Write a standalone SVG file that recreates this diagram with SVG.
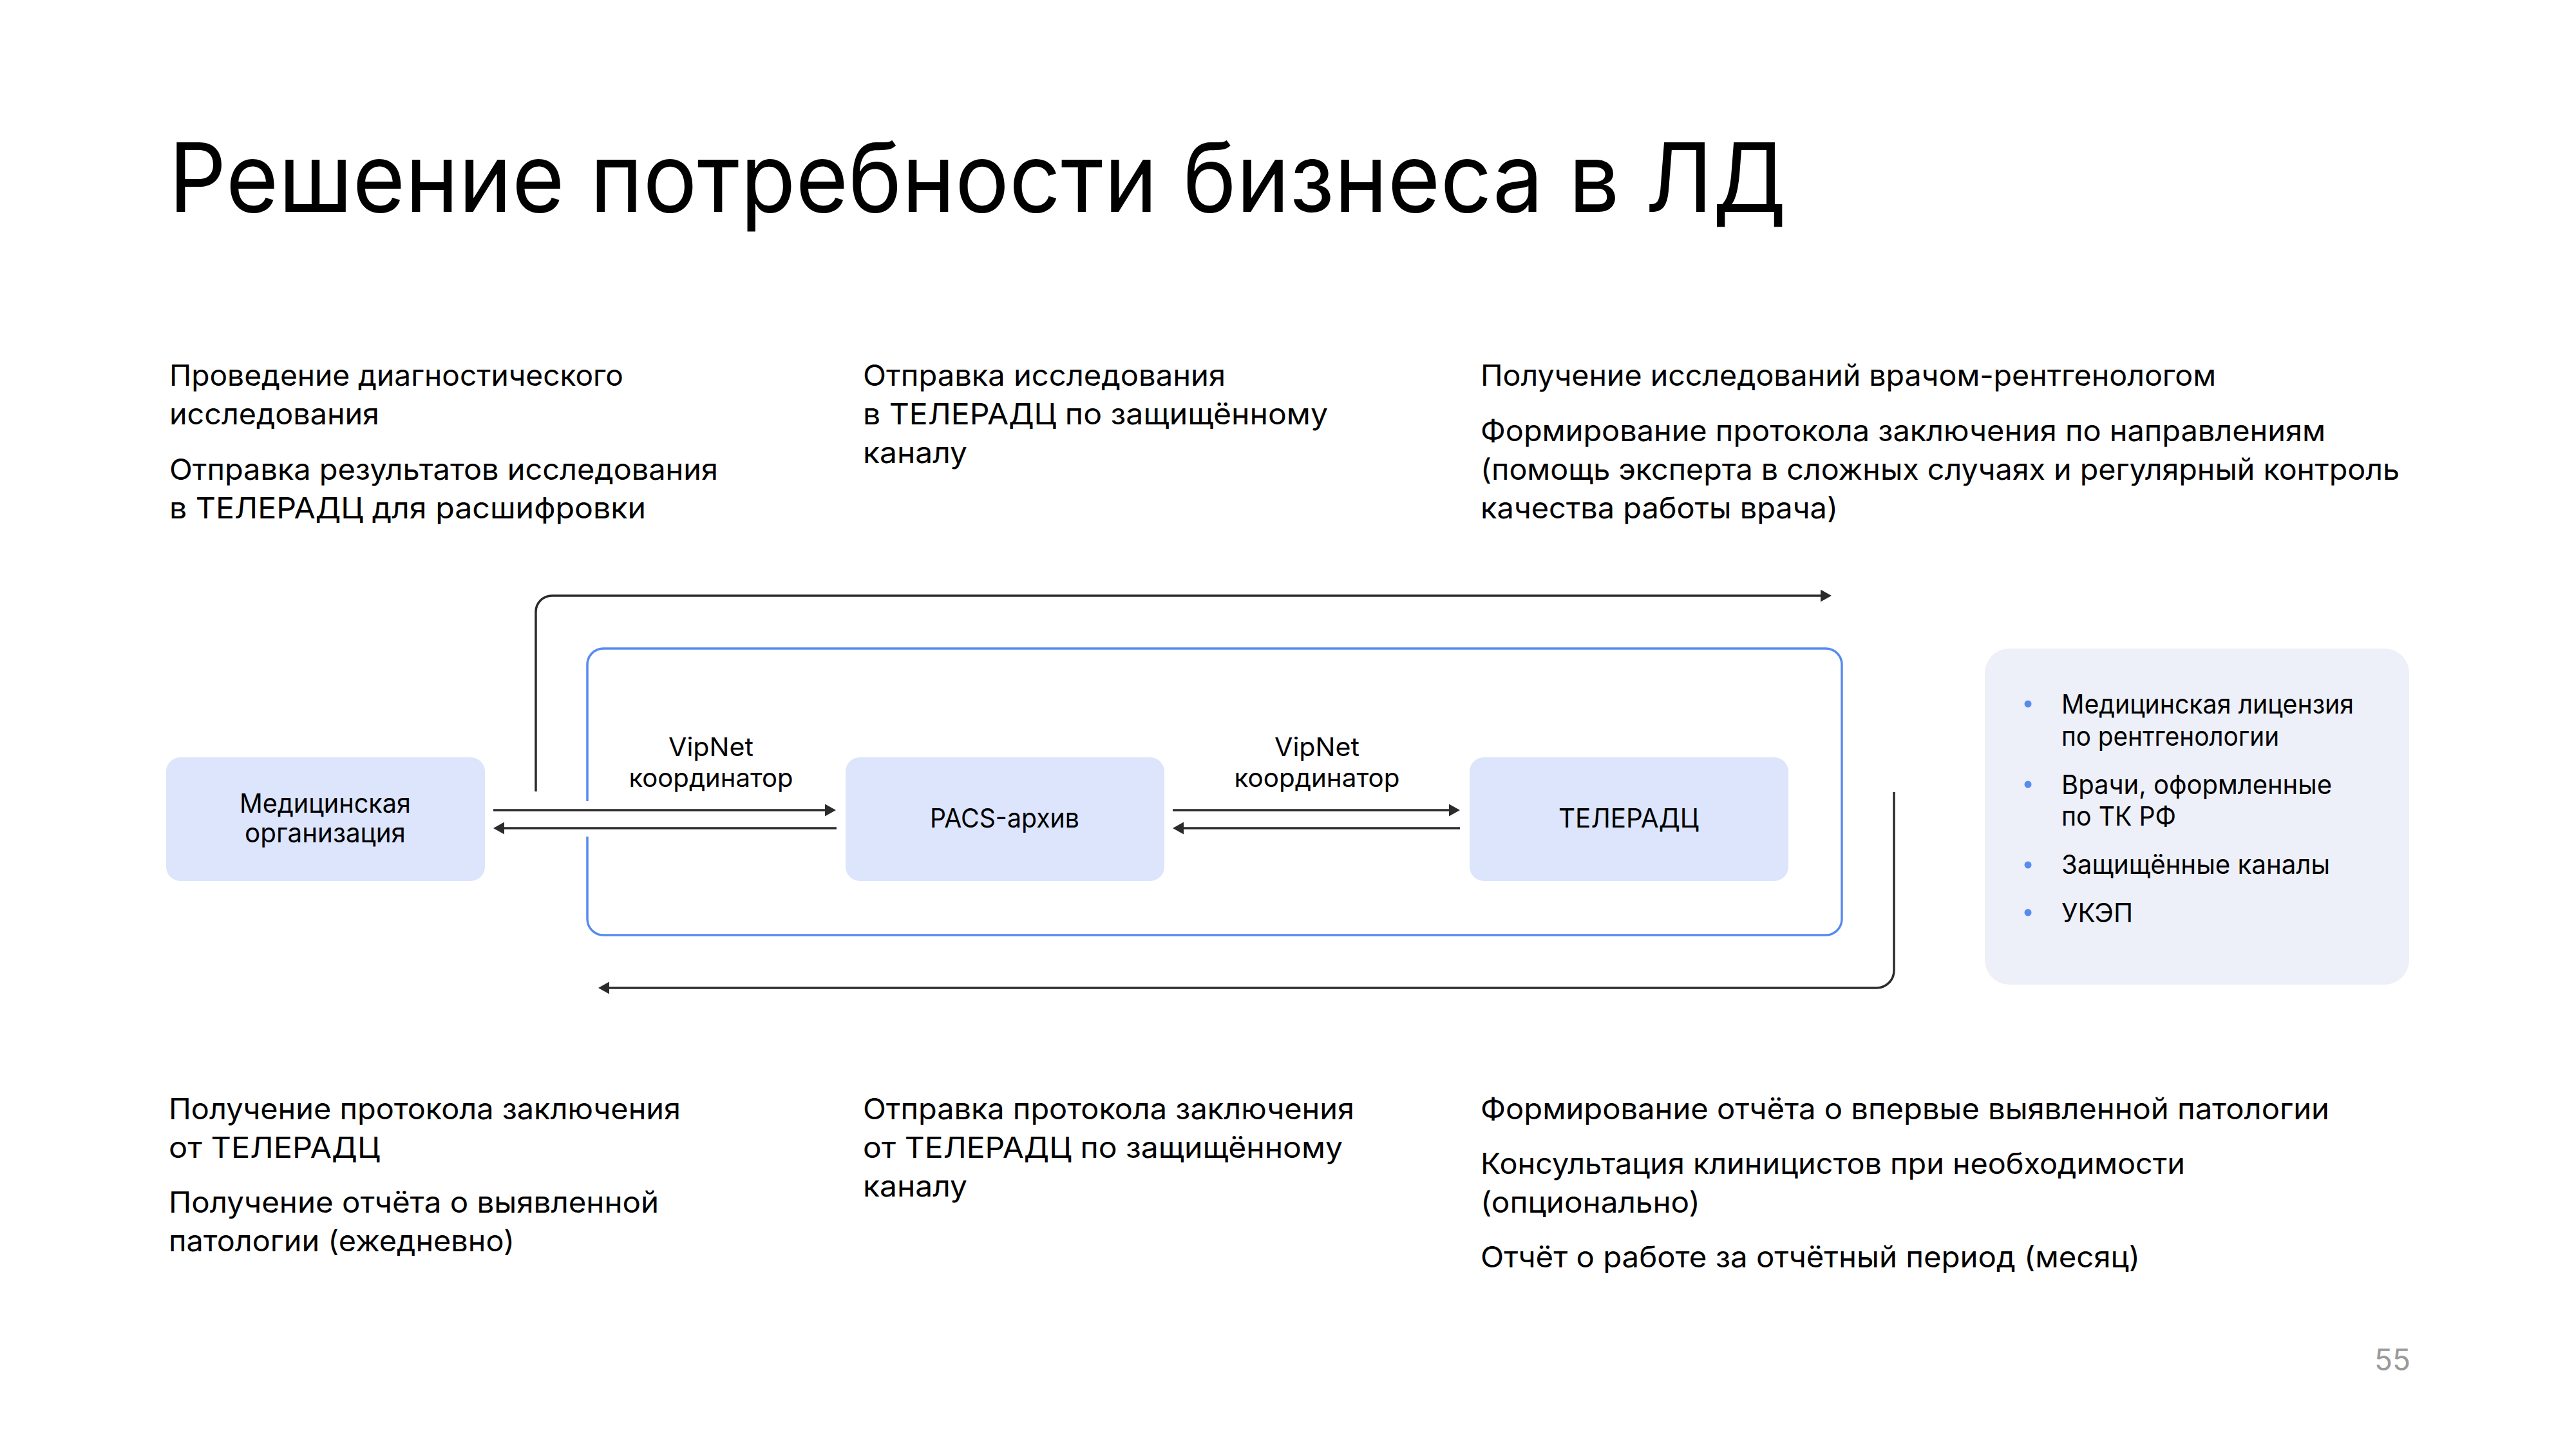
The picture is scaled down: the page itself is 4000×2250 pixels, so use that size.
<svg xmlns="http://www.w3.org/2000/svg" width="4000" height="2250" viewBox="0 0 4000 2250">
<style>
text{font-family:Inter,"Liberation Sans","Noto Sans",sans-serif;fill:#000}
.title{font-size:148px}
.body{font-size:45px}
.node{font-size:41px;text-anchor:middle}
.lbl{font-size:40px;text-anchor:middle}
.li{font-size:41px}
.nbox{fill:#DCE5FC}
.conn{fill:none;stroke:#2B2B2B;stroke-width:3.5}
.frame{fill:none;stroke:#588AF0;stroke-width:3.5}
.pg{font-size:46px;fill:#9A9A9A;text-anchor:end}
</style>
<defs>
<marker id="ah" markerUnits="userSpaceOnUse" markerWidth="18" markerHeight="20" refX="0" refY="9.5" orient="auto">
<path d="M0,0 L17,9.5 L0,19 Z" fill="#2B2B2B"/>
</marker>
</defs>
<rect width="4000" height="2250" fill="#FFFFFF"/>

<text id="title" class="title" x="262" y="329" textLength="2512" lengthAdjust="spacingAndGlyphs">Решение потребности бизнеса в ЛД</text>

<g id="top-col1" class="body">
<text x="263" y="599" textLength="705" lengthAdjust="spacingAndGlyphs">Проведение диагностического</text>
<text x="263" y="659" textLength="326" lengthAdjust="spacingAndGlyphs">исследования</text>
<text x="263" y="745" textLength="852" lengthAdjust="spacingAndGlyphs">Отправка результатов исследования</text>
<text x="263" y="805" textLength="740" lengthAdjust="spacingAndGlyphs">в ТЕЛЕРАДЦ для расшифровки</text>
</g>
<g id="top-col2" class="body">
<text x="1340" y="599" textLength="563" lengthAdjust="spacingAndGlyphs">Отправка исследования</text>
<text x="1340" y="659" textLength="722" lengthAdjust="spacingAndGlyphs">в ТЕЛЕРАДЦ по защищённому</text>
<text x="1340" y="719" textLength="162" lengthAdjust="spacingAndGlyphs">каналу</text>
</g>
<g id="top-col3" class="body">
<text x="2299" y="599" textLength="1142" lengthAdjust="spacingAndGlyphs">Получение исследований врачом-рентгенологом</text>
<text x="2299" y="685" textLength="1312" lengthAdjust="spacingAndGlyphs">Формирование протокола заключения по направлениям</text>
<text x="2299" y="745" textLength="1427" lengthAdjust="spacingAndGlyphs">(помощь эксперта в сложных случаях и регулярный контроль</text>
<text x="2299" y="805" textLength="555" lengthAdjust="spacingAndGlyphs">качества работы врача)</text>
</g>

<g id="connectors">
<path class="frame" d="M912,1299 V1427 A25,25 0 0 0 937,1452 H2835 A25,25 0 0 0 2860,1427 V1032 A25,25 0 0 0 2835,1007 H937 A25,25 0 0 0 912,1032 V1244"/>
<path class="conn" d="M832,1229 V950 A25,25 0 0 1 857,925 H2827" marker-end="url(#ah)"/>
<path class="conn" d="M2941,1230 V1507 A27,27 0 0 1 2914,1534 H946" marker-end="url(#ah)"/>
<path class="conn" d="M766,1258 H1281" marker-end="url(#ah)"/>
<path class="conn" d="M1299,1286 H783" marker-end="url(#ah)"/>
<path class="conn" d="M1821,1258 H2250" marker-end="url(#ah)"/>
<path class="conn" d="M2267,1286 H1838" marker-end="url(#ah)"/>
</g>

<g id="label-vipnet-1">
<text class="lbl" x="1104" y="1174" textLength="132" lengthAdjust="spacingAndGlyphs">VipNet</text>
<text class="lbl" x="1104" y="1222" textLength="255" lengthAdjust="spacingAndGlyphs">координатор</text>
</g>
<g id="label-vipnet-2">
<text class="lbl" x="2045" y="1174" textLength="132" lengthAdjust="spacingAndGlyphs">VipNet</text>
<text class="lbl" x="2045" y="1222" textLength="257" lengthAdjust="spacingAndGlyphs">координатор</text>
</g>

<g id="node-med-org">
<rect class="nbox" x="258" y="1176" width="495" height="192" rx="22"/>
<text class="node" x="505" y="1262" textLength="266" lengthAdjust="spacingAndGlyphs">Медицинская</text>
<text class="node" x="505" y="1308" textLength="250" lengthAdjust="spacingAndGlyphs">организация</text>
</g>
<g id="node-pacs">
<rect class="nbox" x="1313" y="1176" width="495" height="192" rx="22"/>
<text class="node" x="1560" y="1285" textLength="232" lengthAdjust="spacingAndGlyphs">PACS-архив</text>
</g>
<g id="node-teleradc">
<rect class="nbox" x="2282" y="1176" width="495" height="192" rx="22"/>
<text class="node" x="2529" y="1285" textLength="218" lengthAdjust="spacingAndGlyphs">ТЕЛЕРАДЦ</text>
</g>

<g id="requirements-panel">
<rect x="3082" y="1007" width="659" height="522" rx="38" fill="#EDF0F8"/>
<g fill="#588AF0">
<circle cx="3149" cy="1093" r="5.5"/>
<circle cx="3149" cy="1218" r="5.5"/>
<circle cx="3149" cy="1343" r="5.5"/>
<circle cx="3149" cy="1417" r="5.5"/>
</g>
<text class="li" x="3201" y="1108" textLength="454" lengthAdjust="spacingAndGlyphs">Медицинская лицензия</text>
<text class="li" x="3201" y="1158" textLength="338" lengthAdjust="spacingAndGlyphs">по рентгенологии</text>
<text class="li" x="3201" y="1233" textLength="420" lengthAdjust="spacingAndGlyphs">Врачи, оформленные</text>
<text class="li" x="3201" y="1282" textLength="178" lengthAdjust="spacingAndGlyphs">по ТК РФ</text>
<text class="li" x="3201" y="1357" textLength="417" lengthAdjust="spacingAndGlyphs">Защищённые каналы</text>
<text class="li" x="3201" y="1432" textLength="111" lengthAdjust="spacingAndGlyphs">УКЭП</text>
</g>

<g id="bottom-col1" class="body">
<text x="262" y="1738" textLength="795" lengthAdjust="spacingAndGlyphs">Получение протокола заключения</text>
<text x="262" y="1798" textLength="328" lengthAdjust="spacingAndGlyphs">от ТЕЛЕРАДЦ</text>
<text x="262" y="1883" textLength="761" lengthAdjust="spacingAndGlyphs">Получение отчёта о выявленной</text>
<text x="262" y="1943" textLength="537" lengthAdjust="spacingAndGlyphs">патологии (ежедневно)</text>
</g>
<g id="bottom-col2" class="body">
<text x="1340" y="1738" textLength="763" lengthAdjust="spacingAndGlyphs">Отправка протокола заключения</text>
<text x="1340" y="1798" textLength="745" lengthAdjust="spacingAndGlyphs">от ТЕЛЕРАДЦ по защищённому</text>
<text x="1340" y="1858" textLength="162" lengthAdjust="spacingAndGlyphs">каналу</text>
</g>
<g id="bottom-col3" class="body">
<text x="2299" y="1738" textLength="1318" lengthAdjust="spacingAndGlyphs">Формирование отчёта о впервые выявленной патологии</text>
<text x="2299" y="1823" textLength="1094" lengthAdjust="spacingAndGlyphs">Консультация клиницистов при необходимости</text>
<text x="2299" y="1883" textLength="341" lengthAdjust="spacingAndGlyphs">(опционально)</text>
<text x="2299" y="1968" textLength="1024" lengthAdjust="spacingAndGlyphs">Отчёт о работе за отчётный период (месяц)</text>
</g>

<text id="page-number" class="pg" x="3743" y="2128">55</text>
</svg>
